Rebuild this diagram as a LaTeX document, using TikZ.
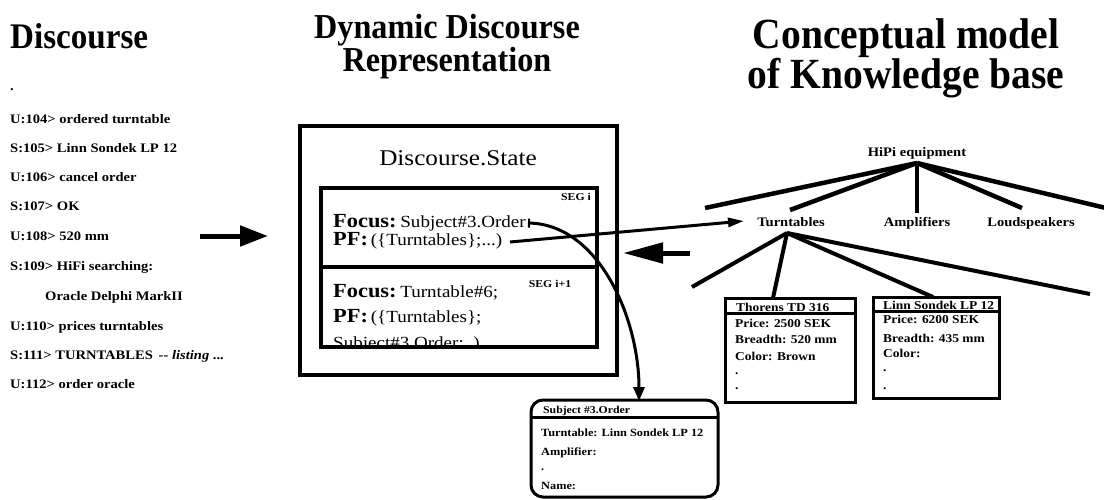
\documentclass[tikz,border=0pt]{standalone}
\usepackage{fontspec}
\setmainfont{Liberation Serif}
\newfontfamily\scan{Liberation Serif}[FakeStretch=1.12]
\newfontfamily\ttl{Liberation Serif}[FakeStretch=0.92]
\usetikzlibrary{arrows.meta}
\newcommand{\fs}[1]{\fontsize{#1}{#1}\selectfont}
\begin{document}
\begin{tikzpicture}[x=1pt,y=-1pt,
  lbl/.style={anchor=base west,inner sep=0pt,font=\scan\bfseries\fs{13}},
  title/.style={anchor=north,inner sep=0pt,align=center},
  small/.style={anchor=base west,inner sep=0pt,font=\scan\bfseries\fs{12}},
  tiny/.style={anchor=base west,inner sep=0pt,font=\scan\bfseries\fs{10.5}},
  sub/.style={anchor=base west,inner sep=0pt,font=\scan\bfseries\fs{11}},
  big/.style={anchor=base west,inner sep=0pt,font=\scan},
  tree/.style={line width=4.5pt},
  subtree/.style={line width=4pt},
  fat/.style={line width=5pt,-{Triangle[length=28pt,width=20pt]}},
  thin/.style={line width=3pt}]
\useasboundingbox (0,0) rectangle (1104,499);
% titles
\node[anchor=base west,inner sep=0pt,font=\ttl\bfseries\fs{36}] (t1) at (10,48) {Discourse};
\node[title,font=\ttl\bfseries\fontsize{35}{30}\selectfont] (t2) at (447,14) {Dynamic Discourse\\Representation};
\node[title,font=\ttl\bfseries\fontsize{43}{34}\selectfont] (t3) at (906,18) {Conceptual model\\of Knowledge base};
% dialogue
\node[lbl] (dot) at (10,90) {.};
\node[lbl] (d1) at (10,123) {U:104> ordered turntable};
\node[lbl] (d2) at (10,152) {S:105> Linn Sondek LP 12};
\node[lbl] (d3) at (10,181) {U:106> cancel order};
\node[lbl] (d4) at (10,210) {S:107> OK};
\node[lbl] (d5) at (10,240) {U:108> 520 mm};
\node[lbl] (d6) at (10,270) {S:109> HiFi searching:};
\node[lbl] (d7) at (45,300) {Oracle Delphi MarkII};
\node[lbl] (d8) at (10,330) {U:110> prices turntables};
\node[lbl] (d9) at (10,359) {S:111> TURNTABLES \,-- \textit{listing} ...};
\node[lbl] (d10) at (10,388) {U:112> order oracle};
% arrow into state
\coordinate (a1s) at (200,236);
\coordinate (a1e) at (268,236);
\draw[fat] (a1s) -- (a1e);
% discourse state
\draw[line width=4pt] (300,126) rectangle (617,375);
\node[anchor=base,inner sep=0pt,font=\scan\fs{22.5}] (ds) at (458,165) {Discourse.State};
\draw[line width=3.5pt] (321,188) rectangle (597,347);
\draw[line width=3.5pt] (321,267) -- (597,267);
\node[tiny,anchor=base] (seg1) at (576,200) {SEG i};
\node[tiny,anchor=base] (seg2) at (550,287) {SEG i+1};
\node[big] (f1) at (333,227) {{\fs{20}\bfseries Focus:} {\fs{17}Subject\#3.Order}};
\node[big] (p1) at (333,245) {{\fs{20}\bfseries PF:} {\fs{17}(\{Turntables\};...)}};
\begin{scope}
\clip (323,269) rectangle (595,345.5);
\node[big] (f2) at (333,297) {{\fs{20}\bfseries Focus:} {\fs{17}Turntable\#6;}};
\node[big] (p2) at (333,322) {{\fs{20}\bfseries PF:} {\fs{17}(\{Turntables\};}};
\node[big] (s2) at (333,348) {{\fs{17}Subject\#3.Order;..)}};
\end{scope}
% knowledge base
\node[anchor=base,inner sep=0pt,font=\scan\bfseries\fs{13}] (hifi) at (917,156) {HiPi equipment};
\coordinate (apex) at (917,163);
\coordinate (k1) at (705,208);
\coordinate (k2) at (790,210);
\coordinate (k3) at (917,213);
\coordinate (k4) at (1022,208);
\coordinate (k5) at (1106,208);
\foreach \k in {k1,k2,k3,k4,k5} \draw[tree,line cap=butt] (apex) -- (\k);
\node[anchor=base,inner sep=0pt,font=\scan\bfseries\fs{13}] (tt) at (791,226) {Turntables};
\node[anchor=base,inner sep=0pt,font=\scan\bfseries\fs{13}] (amp) at (917,226) {Amplifiers};
\node[anchor=base,inner sep=0pt,font=\scan\bfseries\fs{13}] (ls) at (1031,226) {Loudspeakers};
\coordinate (tapex) at (787,233);
\coordinate (s1) at (692,287);
\coordinate (s2) at (773,298);
\coordinate (s3) at (933,297);
\coordinate (s4) at (1090,294);
\foreach \k in {s1,s2,s3,s4} \draw[subtree] (tapex) -- (\k);
% Thorens box
\filldraw[fill=white,line width=3pt] (725,298) rectangle (855,402);
\draw[line width=3pt] (725,313) -- (855,313);
\node[small] (th) at (736,311) {Thorens TD 316};
\node[small] (th1) at (735,327) {Price: 2500 SEK};
\node[small] (th2) at (735,343) {Breadth: 520 mm};
\node[small] (th3) at (735,360) {Color: Brown};
\node[small] (th4) at (735,374) {.};
\node[small] (th5) at (735,389) {.};
% Linn box
\filldraw[fill=white,line width=3pt] (873,297) rectangle (999,398);
\draw[line width=3pt] (873,311) -- (999,311);
\node[small] (ln) at (883,309.5) {Linn Sondek LP 12};
\node[small] (ln1) at (883,323) {Price: 6200 SEK};
\node[small] (ln2) at (883,342) {Breadth: 435 mm};
\node[small] (ln3) at (883,357) {Color:};
\node[small] (ln4) at (883,371) {.};
\node[small] (ln5) at (883,389) {.};
% PF arrow
\coordinate (pfs) at (510,242);
\coordinate (pfe) at (744,221);
\draw[thin,-{Triangle[length=16pt,width=9pt]}] (pfs) -- (pfe);
% arrow from knowledge base back
\coordinate (a2s) at (690,253);
\coordinate (a2e) at (623,253);
\draw[line width=5pt,-{Triangle[length=40pt,width=20pt]}] (a2s) -- (a2e);
% subject box
\draw[line width=3pt,rounded corners=12pt] (531,400) rectangle (718,497);
\draw[line width=3pt] (531,417) -- (718,417);
\node[tiny] (sb) at (543,413) {Subject \#3.Order};
\node[sub] (sb1) at (541,436) {Turntable: Linn Sondek LP 12};
\node[sub] (sb2) at (541,455) {Amplifier:};
\node[sub] (sb3) at (541,470) {.};
\node[sub] (sb4) at (541,489) {Name:};
% curved arrow
\coordinate (cs) at (528,223);
\coordinate (ce) at (639,401);
\draw[thin,{Bar[width=9pt,line width=2pt]}-{Triangle[length=14pt,width=11pt]}] (cs) .. controls (600,225) and (639,320) .. (ce);
\end{tikzpicture}
\end{document}
